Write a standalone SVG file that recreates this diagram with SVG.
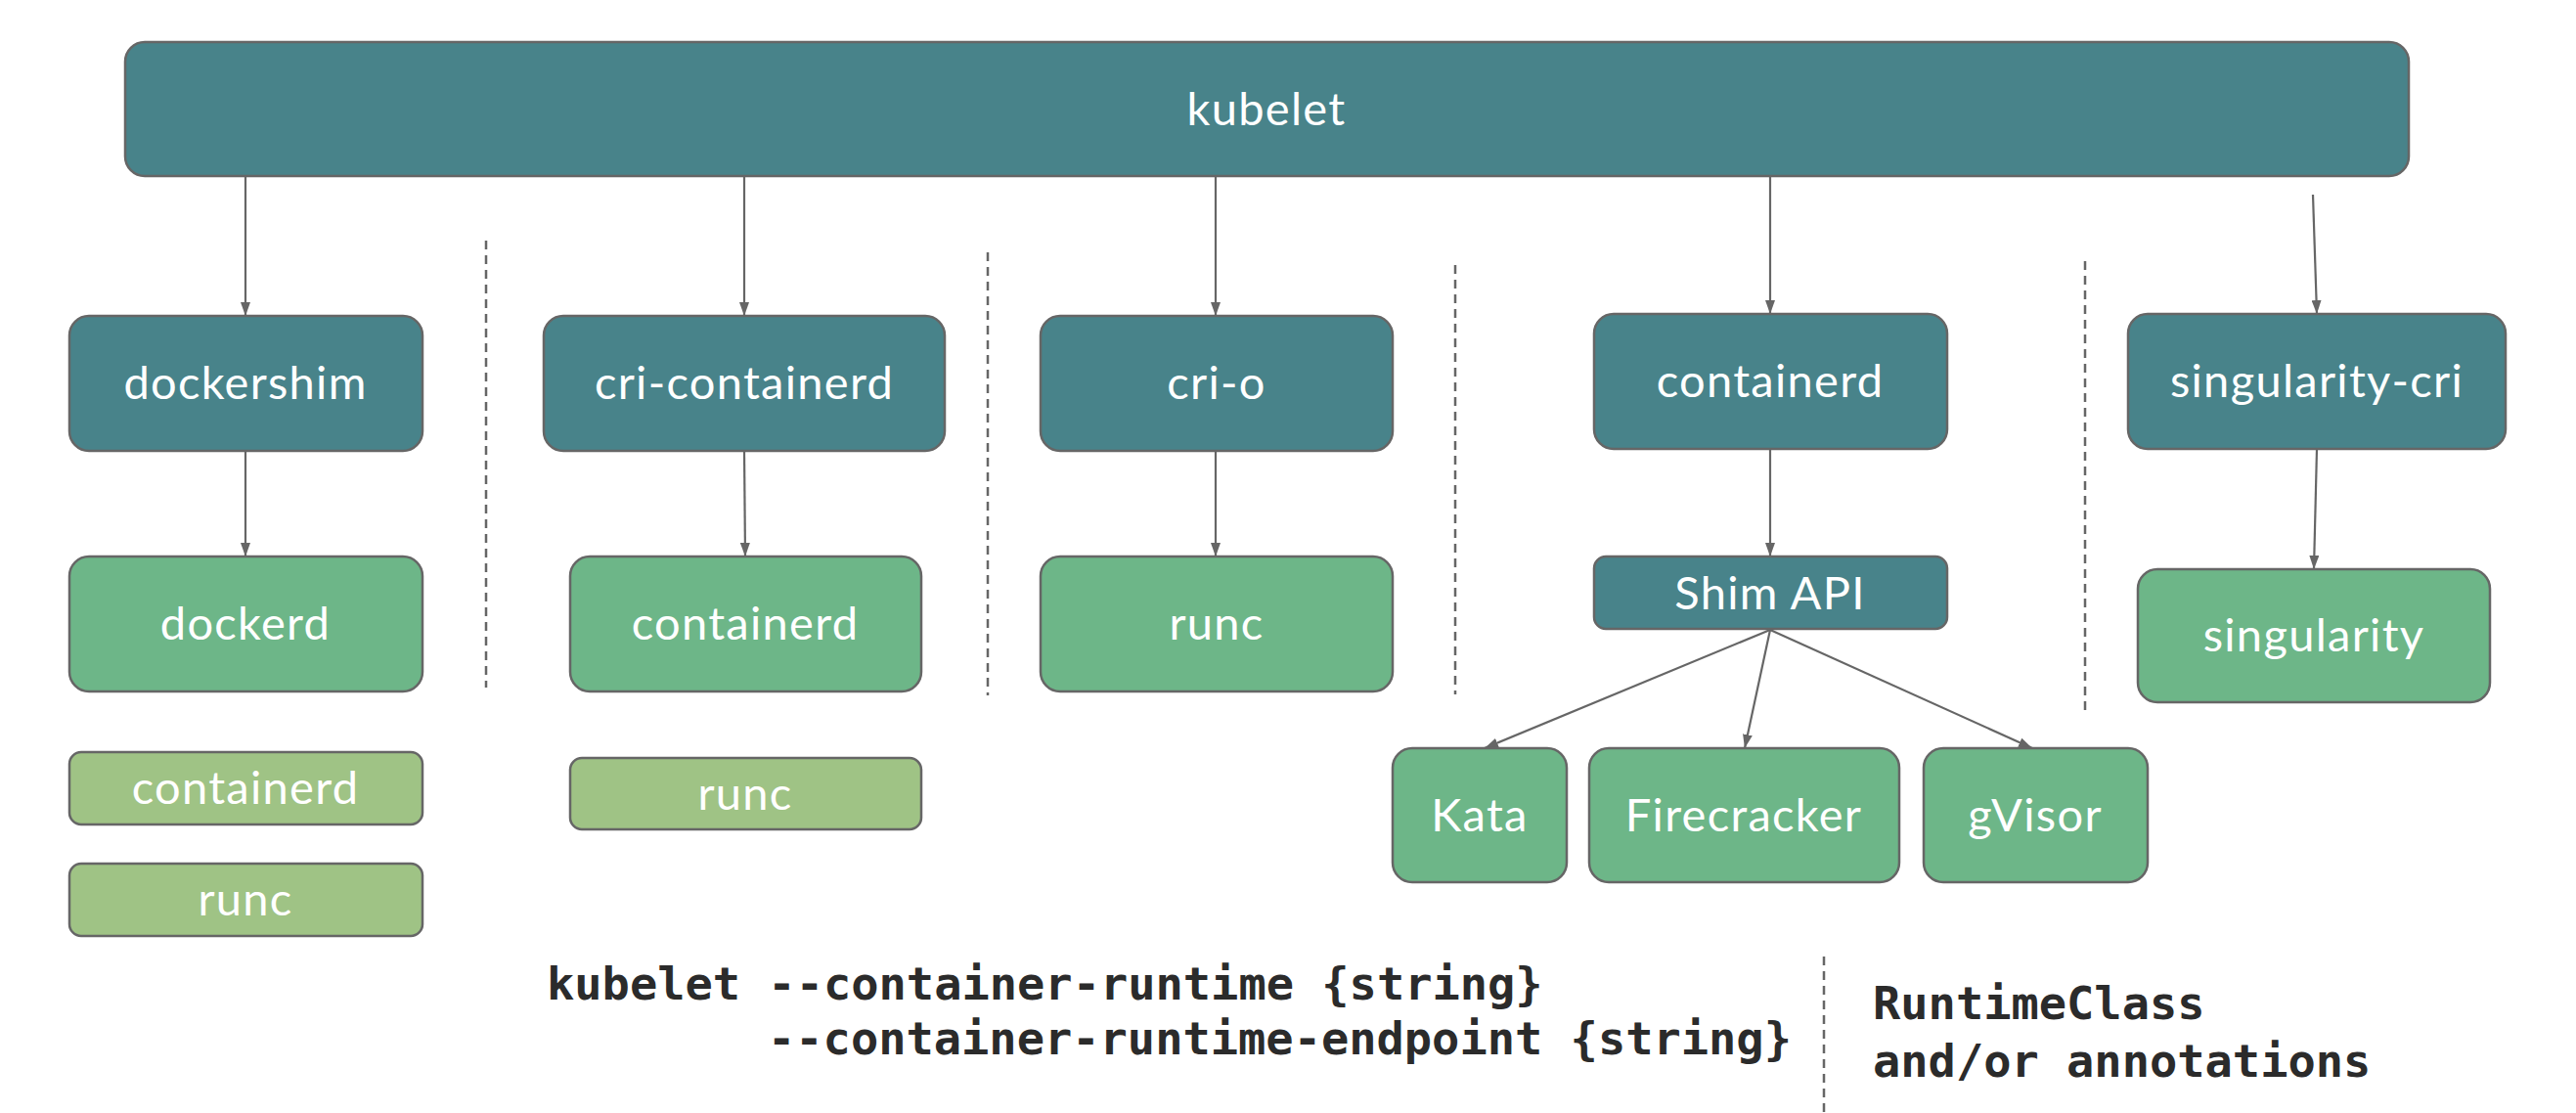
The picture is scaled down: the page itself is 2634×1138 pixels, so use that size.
<svg xmlns="http://www.w3.org/2000/svg" width="2634" height="1138" viewBox="0 0 2634 1138">
<style>
  .teal { fill: #48838a; stroke: #666666; stroke-width: 2.5; }
  .green { fill: #6db688; stroke: #666666; stroke-width: 2.5; }
  .light { fill: #9fc385; stroke: #666666; stroke-width: 2.5; }
  .lbl { font-family: Lato, "Open Sans", "Noto Sans", sans-serif; font-size: 47px; letter-spacing: 1.3px; fill: #ffffff; text-anchor: middle; }
  .code { font-family: "DejaVu Sans Mono", "Liberation Mono", monospace; font-weight: bold; font-size: 47px; fill: #2b2b2b; }
  .conn line { stroke: #666666; stroke-width: 2.2; fill: none; marker-end: url(#arrow); }
  .sep line { stroke: #666666; stroke-width: 2.5; stroke-dasharray: 9 6; }
</style>
<defs>
  <marker id="arrow" viewBox="0 0 14 10" refX="14" refY="5" markerWidth="14" markerHeight="10" markerUnits="userSpaceOnUse" orient="auto">
    <path d="M0,0 L14,5 L0,10 Z" fill="#666666"/>
  </marker>
</defs>
<rect width="2634" height="1138" fill="#ffffff"/>

<g id="separators" class="sep">
  <line x1="497" y1="246" x2="497" y2="703"/>
  <line x1="1010" y1="258" x2="1010" y2="711"/>
  <line x1="1488" y1="271" x2="1488" y2="710"/>
  <line x1="2132" y1="267" x2="2132" y2="726"/>
  <line x1="1865" y1="978" x2="1865" y2="1138"/>
</g>

<g id="connectors" class="conn">
  <line x1="251" y1="180" x2="251" y2="323"/>
  <line x1="761" y1="180" x2="761" y2="323"/>
  <line x1="1243" y1="180" x2="1243" y2="323"/>
  <line x1="1810" y1="180" x2="1810" y2="321"/>
  <line x1="2365" y1="199" x2="2369" y2="321"/>
  <line x1="251" y1="461" x2="251" y2="569"/>
  <line x1="761" y1="461" x2="762" y2="569"/>
  <line x1="1243" y1="461" x2="1243" y2="569"/>
  <line x1="1810" y1="459" x2="1810" y2="569"/>
  <line x1="1810" y1="644" x2="1518" y2="765"/>
  <line x1="1810" y1="644" x2="1784" y2="765"/>
  <line x1="1810" y1="644" x2="2078" y2="765"/>
  <line x1="2369" y1="459" x2="2366" y2="582"/>
</g>

<g id="kubelet">
  <rect class="teal" x="128" y="43" width="2335" height="137" rx="20"/>
  <text class="lbl" x="1295" y="128">kubelet</text>
</g>

<g id="dockershim">
  <rect class="teal" x="71" y="323" width="361" height="138" rx="20"/>
  <text class="lbl" x="251" y="408">dockershim</text>
</g>
<g id="dockerd">
  <rect class="green" x="71" y="569" width="361" height="138" rx="20"/>
  <text class="lbl" x="251" y="654">dockerd</text>
</g>
<g id="dockerd-containerd">
  <rect class="light" x="71" y="769" width="361" height="74" rx="12"/>
  <text class="lbl" x="251" y="822">containerd</text>
</g>
<g id="dockerd-runc">
  <rect class="light" x="71" y="883" width="361" height="74" rx="12"/>
  <text class="lbl" x="251" y="936">runc</text>
</g>

<g id="cri-containerd">
  <rect class="teal" x="556" y="323" width="410" height="138" rx="20"/>
  <text class="lbl" x="761" y="408">cri-containerd</text>
</g>
<g id="cri-containerd-containerd">
  <rect class="green" x="583" y="569" width="359" height="138" rx="20"/>
  <text class="lbl" x="762" y="654">containerd</text>
</g>
<g id="cri-containerd-runc">
  <rect class="light" x="583" y="775" width="359" height="73" rx="12"/>
  <text class="lbl" x="762" y="828">runc</text>
</g>

<g id="cri-o">
  <rect class="teal" x="1064" y="323" width="360" height="138" rx="20"/>
  <text class="lbl" x="1244" y="408">cri-o</text>
</g>
<g id="cri-o-runc">
  <rect class="green" x="1064" y="569" width="360" height="138" rx="20"/>
  <text class="lbl" x="1244" y="654">runc</text>
</g>

<g id="containerd">
  <rect class="teal" x="1630" y="321" width="361" height="138" rx="20"/>
  <text class="lbl" x="1810" y="406">containerd</text>
</g>
<g id="shim-api">
  <rect class="teal" x="1630" y="569" width="361" height="74" rx="12"/>
  <text class="lbl" x="1810" y="623">Shim API</text>
</g>
<g id="kata">
  <rect class="green" x="1424" y="765" width="178" height="137" rx="20"/>
  <text class="lbl" x="1513" y="850">Kata</text>
</g>
<g id="firecracker">
  <rect class="green" x="1625" y="765" width="317" height="137" rx="20"/>
  <text class="lbl" x="1783" y="850">Firecracker</text>
</g>
<g id="gvisor">
  <rect class="green" x="1967" y="765" width="229" height="137" rx="20"/>
  <text class="lbl" x="2081" y="850">gVisor</text>
</g>

<g id="singularity-cri">
  <rect class="teal" x="2176" y="321" width="386" height="138" rx="20"/>
  <text class="lbl" x="2369" y="406">singularity-cri</text>
</g>
<g id="singularity">
  <rect class="green" x="2186" y="582" width="360" height="136" rx="20"/>
  <text class="lbl" x="2366" y="666">singularity</text>
</g>

<g id="cli-flags">
  <text class="code" x="559" y="1022">kubelet --container-runtime {string}</text>
  <text class="code" x="785" y="1078">--container-runtime-endpoint {string}</text>
</g>
<g id="runtimeclass">
  <text class="code" x="1915" y="1042">RuntimeClass</text>
  <text class="code" x="1915" y="1101">and/or annotations</text>
</g>
</svg>
